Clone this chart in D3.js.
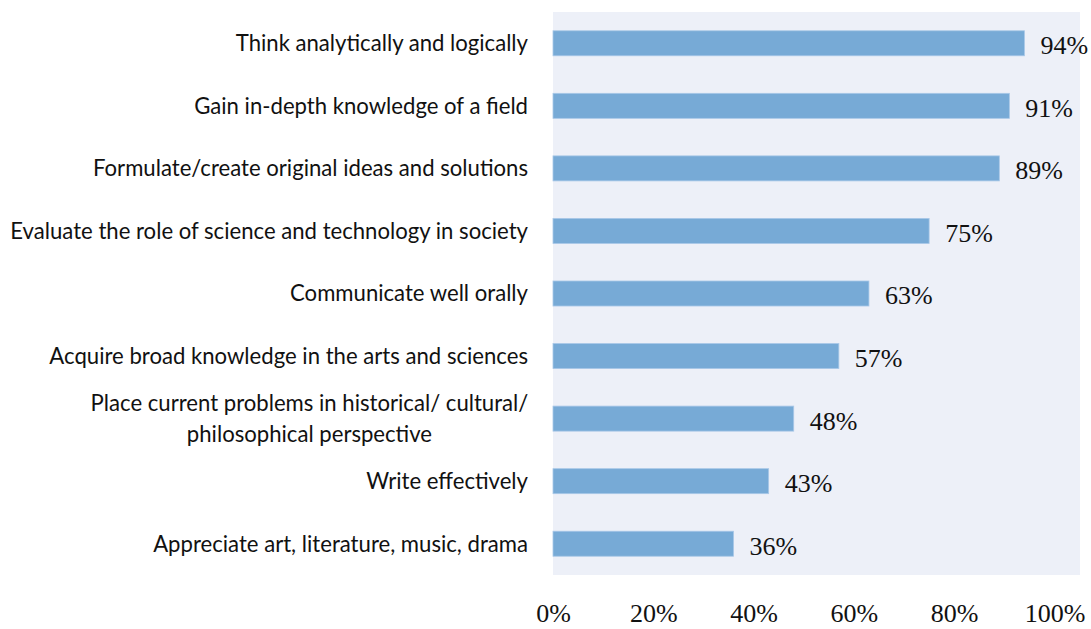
<!DOCTYPE html>
<html>
<head>
<meta charset="utf-8">
<script src="https://cdn.jsdelivr.net/npm/d3@7"></script>
<style>
  body { margin: 0; background: #fff; }
  svg { display: block; }
  .num { font-family: "Times New Roman", "Liberation Serif", serif; font-size: 26px; }
</style>
</head>
<body>
<svg id="chart"></svg>
<script>
// categories top to bottom, lines split where the original wraps
var categories = [
    ["Think analytically and logically"],
    ["Gain in-depth knowledge of a field"],
    ["Formulate/create original ideas and solutions"],
    ["Evaluate the role of science and technology in society"],
    ["Communicate well orally"],
    ["Acquire broad knowledge in the arts and sciences"],
    ["Place current problems in historical/ cultural/", "philosophical perspective"],
    ["Write effectively"],
    ["Appreciate art, literature, music, drama"]
];
var values = [94, 91, 89, 75, 63, 57, 48, 43, 36];
var xTicks = [0, 20, 40, 60, 80, 100];

var W = 1091, H = 629;
var plotLeft = 553, plotRight = 1080, plotTop = 12, plotBottom = 575;

var svg = d3.select("#chart").attr("width", W).attr("height", H);

var x = d3.scaleLinear().domain([0, 100]).range([plotLeft, 1054.5]);
var y = d3.scaleBand()
    .domain(d3.range(categories.length))
    .range([plotTop, plotBottom])
    .paddingInner(0.6).paddingOuter(0.3);

// plot background
svg.append("rect")
    .attr("x", plotLeft).attr("y", plotTop)
    .attr("width", plotRight - plotLeft).attr("height", plotBottom - plotTop)
    .attr("fill", "#edf0f8");

svg.append("g").selectAll("rect")
    .data(values).enter().append("rect")
    .attr("x", x(0))
    .attr("y", function (d, i) { return y(i); })
    .attr("width", function (d) { return x(d) - x(0); })
    .attr("height", y.bandwidth())
    .attr("fill", "#77aad6")
    .attr("stroke", "#a9c8e8")
    .attr("stroke-width", 0.8);

// value labels
svg.append("g").selectAll("text")
    .data(values).enter().append("text")
    .attr("class", "num")
    .attr("x", function (d) { return x(d) + 16; })
    .attr("y", function (d, i) { return y(i) + y.bandwidth() / 2; })
    .attr("dy", "0.42em")
    .attr("fill", "#111")
    .text(function (d) { return d + "%"; });

// category labels
var labelRight = 528;
var catG = svg.append("g")
    .style("font-family", "Lato, 'Open Sans', sans-serif")
    .style("font-size", "20px")
    .attr("fill", "#111");

var cats = catG.selectAll("text")
    .data(categories).enter().append("text")
    .attr("y", function (d, i) { return y(i) + y.bandwidth() / 2; });

cats.each(function (lines) {
    var t = d3.select(this);
    var n = lines.length;
    lines.forEach(function (line, k) {
        t.append("tspan")
            .attr("dy", k === 0 ? ((0.36 - (n - 1) * 0.7) + "em") : "1.4em")
            .text(line);
    });
});

// fit font so the longest label spans about 518px, like the original
var longest = 0;
cats.each(function () {
    d3.select(this).selectAll("tspan").each(function () {
        longest = Math.max(longest, this.getComputedTextLength());
    });
});
catG.style("font-size", (20 * 518 / longest) + "px");

cats.each(function (lines) {
    var t = d3.select(this);
    var spans = t.selectAll("tspan");
    if (lines.length === 1) {
        t.attr("text-anchor", "end");
        spans.attr("x", labelRight);
    } else {
        var wmax = 0;
        spans.each(function () { wmax = Math.max(wmax, this.getComputedTextLength()); });
        t.attr("text-anchor", "middle");
        spans.attr("x", labelRight - wmax / 2);
    }
});

// x axis labels
var xAxis = d3.axisBottom(x)
    .tickValues(xTicks)
    .tickSize(0)
    .tickPadding(0)
    .tickFormat(function (d) { return d + "%"; });

var ax = svg.append("g")
    .attr("transform", "translate(0,622)")
    .call(xAxis);
ax.select(".domain").remove();
ax.attr("font-family", null).attr("font-size", null);
ax.selectAll("text")
    .attr("class", "num")
    .attr("dy", 0)
    .attr("fill", "#111");
</script>
</body>
</html>
